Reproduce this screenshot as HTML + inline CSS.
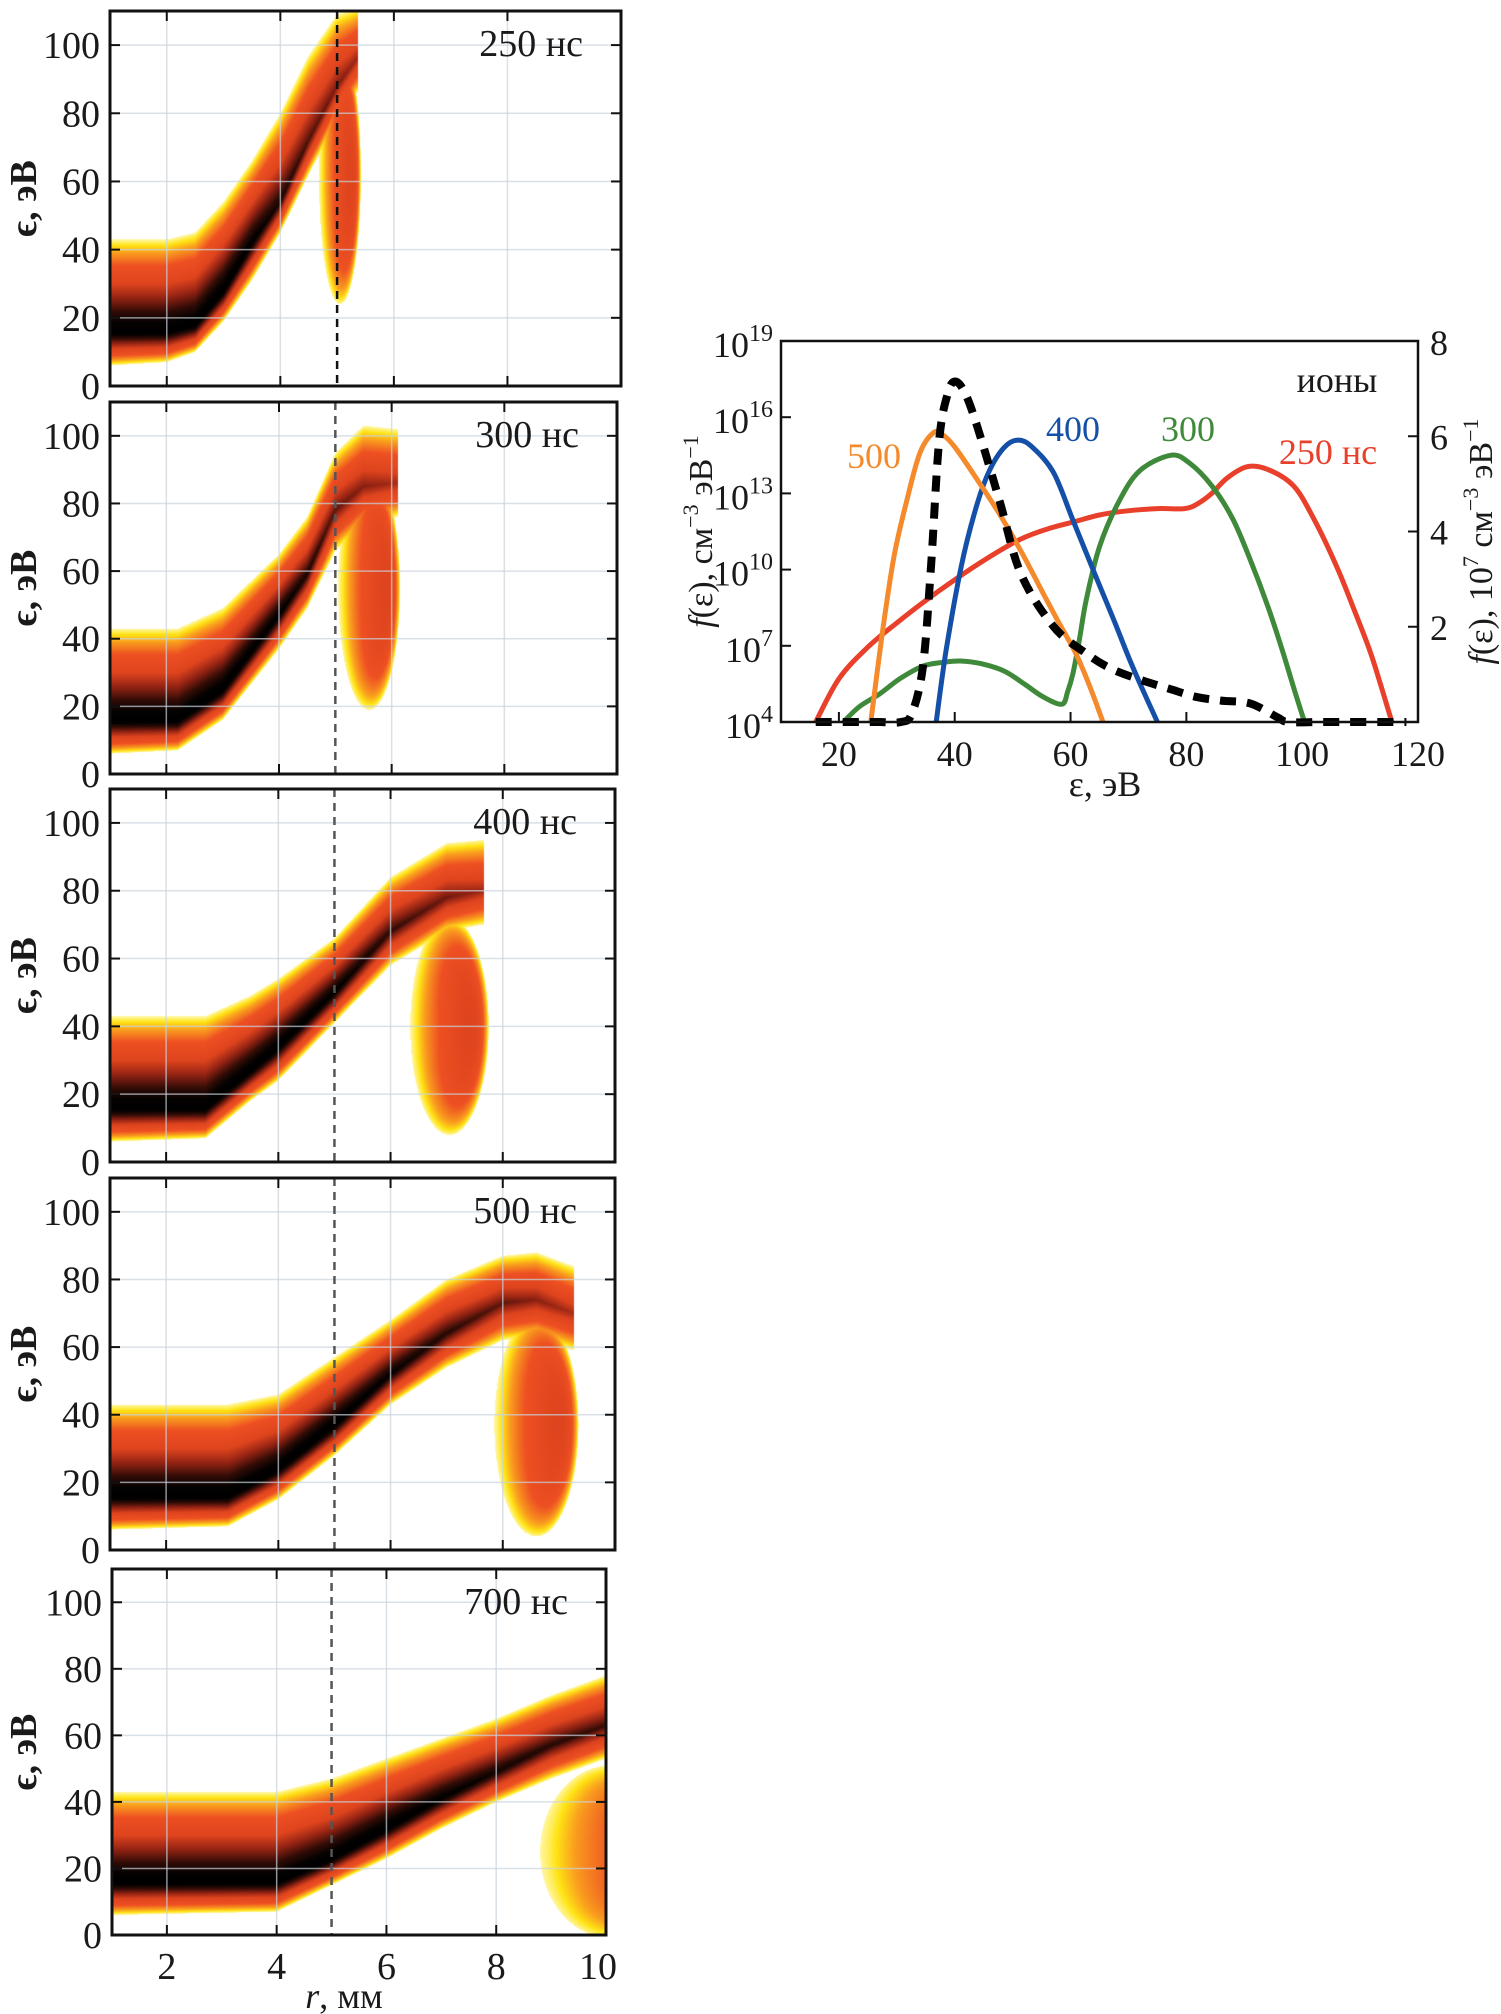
<!DOCTYPE html>
<html><head><meta charset="utf-8">
<style>
html,body{margin:0;padding:0;background:#fff;}
#root{position:relative;width:1501px;height:2014px;overflow:hidden;font-family:"Liberation Serif",serif;}
canvas{position:absolute;}
svg{position:absolute;left:0;top:0;}
</style></head>
<body>
<div id="root">
<svg id="svg" width="1501" height="2014"></svg>
</div>
<script>
// ---------- heatmap panel data ----------
const panelLabels = ["250 нс","300 нс","400 нс","500 нс","700 нс"];
const bandR1=[1,2,2.5,3,3.5,4,4.5,5,5.35], bandC1=[16,16,18,28,42,54,72,88,96], bandWl1=[10,9,8,9,11,9,10,10,10], bandWu1=[27,27,27,26,24,26,25,21,15], bandPk1=[1,1,1,1,0.95,0.85,0.75,0.68,0.62];
const bandR2=[1,2.2,3,4,4.5,5,5.5,6.1], bandC2=[16,16,25,47,59,78,85,86], bandWl2=[10,9,9,10,10,12,12,10], bandWu2=[27,27,24,18,17,17,18,16], bandPk2=[1,1,1,0.95,0.85,0.72,0.66,0.6];
const bandR3=[1,2.7,3.5,4,5,6,7,7.65], bandC3=[16,16,27,34,50,68,78,80], bandWl3=[10,9,9,10,9,10,10,10], bandWu3=[27,27,22,20,16,16,16,15], bandPk3=[1,1,1,1,0.95,0.8,0.7,0.62];
const bandR4=[1,3.1,4,5,6,7,8,8.6,9.25], bandC4=[16,16,24,37,52,64,73,74,70], bandWl4=[10,9,9,9,9,10,11,11,11], bandWu4=[27,27,22,20,16,16,14,14,14], bandPk4=[1,1,1,1,0.92,0.82,0.72,0.66,0.6];
const bandR5=[1,4,5,6,7,8,9,10], bandC5=[16,16,23,32,41,49,57,63], bandWl5=[10,9,8,9,9,9,10,10], bandWu5=[27,27,24,21,18,16,15,15], bandPk5=[1,1,1,1,0.95,0.88,0.82,0.78];
// hook: [r-center, eps-center, r-radius, eps-radius, peak]
const hook1=[5.05,62,0.37,38,0.6], hook2=[5.6,55,0.55,36,0.6], hook3=[7.05,40,0.7,32,0.6], hook4=[8.6,37,0.75,33,0.6], hook5=[10.1,25,1.3,26,0.45];
const xTicks=[2,4,6,8,10], yTicks=[0,20,40,60,80,100];
const panelBoxes=[[110,11,621,386],[110,402,617,774],[110,789,615,1162],[110,1178,615,1550],[112,1569,606,1935]];
const bands=[[bandR1,bandC1,bandWl1,bandWu1,bandPk1,hook1],[bandR2,bandC2,bandWl2,bandWu2,bandPk2,hook2],[bandR3,bandC3,bandWl3,bandWu3,bandPk3,hook3],[bandR4,bandC4,bandWl4,bandWu4,bandPk4,hook4],[bandR5,bandC5,bandWl5,bandWu5,bandPk5,hook5]];

// ---------- line chart data ----------
const eTicks=[20,40,60,80,100,120];
const logTicks=[4,7,10,13,16,19];
const linTicks=[2,4,6,8];
const s250x=[16,20,25,30,34.5,40,46,51.4,56,60.9,65,69.3,75,79.7,82,84.4,87,90.5,94,98.5,102,106,109,111.7,113.5,115.5];
const s250y=[4,5.7,6.95,7.9,8.7,9.6,10.5,11.2,11.6,11.9,12.15,12.3,12.4,12.4,12.6,13.0,13.6,14.05,13.95,13.3,12.0,10.1,8.4,6.8,5.5,4];
const s500x=[25.5,27.5,29.5,31.7,34,36.4,38,40.1,44,47.7,51.5,55.2,58,60.9,63.5,65.6];
const s500y=[4,7.5,10.5,12.7,14.6,15.4,15.3,14.8,13.5,12.2,10.7,9.1,7.9,6.7,5.3,4];
const s400x=[36.8,38.5,41.1,43.5,45.8,48.5,51,53.5,57.1,60.5,64.6,67.5,70.3,72.8,75];
const s400y=[4,6.8,10.1,12.3,13.8,14.8,15.1,14.8,13.8,11.9,9.6,8.0,6.4,5.1,4];
const s300x=[20.8,23.5,27,30.5,34.5,38,41,44.5,48.6,52,55.2,58.5,59.5,60.4,61.5,62.7,65,68.4,72,77.3,80.5,84.4,88,91,94,96.6,98.6,100.4];
const s300y=[4,4.6,5.1,5.7,6.2,6.35,6.4,6.3,6.0,5.5,5.0,4.7,5.2,5.9,7.2,8.8,10.9,12.7,13.9,14.5,14.2,13.3,12.0,10.4,8.6,6.8,5.3,4];
const sDashx=[16,22,27,30.7,32.6,34.5,35.9,37.3,38.8,40.1,41.8,43.9,47.7,51.4,57.1,62.7,67,72.2,77,81.6,86,91,95.7,97.6,103,110,118];
const sDashy=[0,0,0,0,0.18,1.16,3.26,5.9,6.9,7.15,6.9,6.2,4.66,3.12,2.0,1.44,1.12,0.88,0.7,0.53,0.45,0.39,0.1,0,0,0,0];

// ---------- helpers ----------
const NS="http://www.w3.org/2000/svg";
const svg=document.getElementById('svg');
function mk(tag,attrs,parent){const e=document.createElementNS(NS,tag);for(const k in attrs)e.setAttribute(k,attrs[k]);(parent||svg).appendChild(e);return e;}
function interp(xs,ys,x){if(x<=xs[0])return ys[0];for(let i=1;i<xs.length;i++){if(x<=xs[i]){const t=(x-xs[i-1])/(xs[i]-xs[i-1]);return ys[i-1]+t*(ys[i]-ys[i-1]);}}return ys[ys.length-1];}
const cmapT=[0,0.02,0.08,0.16,0.3,0.5,0.65,0.8,0.92,1];
const cmapC=[[255,255,255],[255,246,160],[255,228,20],[250,160,30],[238,80,34],[222,68,30],[150,36,20],[50,12,6],[5,2,1],[0,0,0]];
function cmap(t){if(t<=0)return [255,255,255];if(t>=1)return cmapC[cmapC.length-1];for(let i=1;i<cmapT.length;i++){if(t<=cmapT[i]){const f=(t-cmapT[i-1])/(cmapT[i]-cmapT[i-1]);const a=cmapC[i-1],b=cmapC[i];return [a[0]+f*(b[0]-a[0]),a[1]+f*(b[1]-a[1]),a[2]+f*(b[2]-a[2])];}}}

// ---------- heatmap panels ----------
const root=document.getElementById('root');
panelBoxes.forEach((b,pi)=>{
  const [x0,y0,x1,y1]=b, W=x1-x0, H=y1-y0;
  const xs=r=>x0+(r-1)/9*W, ys=e=>y1-e/110*H;
  const cv=document.createElement('canvas');
  cv.width=W;cv.height=H;cv.style.left=x0+'px';cv.style.top=y0+'px';
  
  
  root.insertBefore(cv,svg);
  const ctx=cv.getContext('2d');const img=ctx.createImageData(W,H);
  const [bR,bC,bWl,bWu,bPk,hk]=bands[pi];
  const rEnd=bR[bR.length-1];
  for(let px=0;px<W;px++){
    const r=1+(px+0.5)/W*9;
    let inBand=r<=rEnd+0.02, c,wl,wu,pk;
    if(inBand){c=interp(bR,bC,r);wl=interp(bR,bWl,r);wu=interp(bR,bWu,r);pk=interp(bR,bPk,r);}
    for(let py=0;py<H;py++){
      const e=110*(1-(py+0.5)/H);
      let t=0;
      const qr=(r-hk[0])/hk[2], qe=(e-hk[1])/hk[3];const q=Math.sqrt(qr*qr+qe*qe);
      if(q<1){const side=Math.min(1,Math.max(0,0.6+0.5*qr));t=hk[4]*(1-Math.pow(q,4))*side+0.02;}
      if(inBand){const d=(e-c)/(e>c?wu:wl);const ad=Math.abs(d);if(ad<1){const tb=pk*(1-ad)+0.015;if(tb>t)t=tb;}}
      const col=cmap(t);const k=(py*W+px)*4;
      img.data[k]=col[0];img.data[k+1]=col[1];img.data[k+2]=col[2];img.data[k+3]=255;
    }
  }
  ctx.putImageData(img,0,0);
  const g=mk('g',{});
  
  
  xTicks.forEach(v=>{if(v<10){const l=mk('line',{x1:xs(v),x2:xs(v),y1:y0,y2:y1,stroke:'#c9d3dc','stroke-width':1.5,'stroke-opacity':0.7},g);
    mk('line',{x1:xs(v),x2:xs(v),y1:y1,y2:y1-10,stroke:'#111','stroke-width':2},g);mk('line',{x1:xs(v),x2:xs(v),y1:y0,y2:y0+10,stroke:'#111','stroke-width':2},g);}});
  yTicks.forEach(v=>{if(v>0){const l=mk('line',{x1:x0,x2:x1,y1:ys(v),y2:ys(v),stroke:'#c9d3dc','stroke-width':1.5,'stroke-opacity':0.7},g);
    mk('line',{x1:x0,x2:x0+10,y1:ys(v),y2:ys(v),stroke:'#111','stroke-width':2},g);mk('line',{x1:x1,x2:x1-10,y1:ys(v),y2:ys(v),stroke:'#111','stroke-width':2},g);}
    const t=mk('text',{x:x0-10,y:ys(v)+13,'text-anchor':'end','font-size':38,fill:'#1a1a1a'},g);t.textContent=v;
    });
  const dl=mk('line',{x1:xs(5),x2:xs(5),y1:y0,y2:y1,stroke:pi<1?'#111':'#555','stroke-width':2.5,'stroke-dasharray':'8,6'},g);
  
  const fr=mk('rect',{x:x0,y:y0,width:W,height:H,fill:'none',stroke:'#111','stroke-width':3},g);
  
  const tl=mk('text',{x:x1-38,y:y0+45,'text-anchor':'end','font-size':38,fill:'#1a1a1a'},g);tl.textContent=panelLabels[pi];
  
  const yl=mk('text',{x:0,y:0,'text-anchor':'middle','font-size':38,'font-weight':'bold',fill:'#1a1a1a',transform:`translate(36,${(y0+y1)/2}) rotate(-90)`},g);yl.textContent='ϵ, эВ';
  
  if(pi===4){
    xTicks.forEach(v=>{const t=mk('text',{x:xs(v)-(v===10?8:0),y:y1+44,'text-anchor':'middle','font-size':38,fill:'#1a1a1a'},g);t.textContent=v;
      });
    const xt=mk('text',{x:(x0+x1)/2-15,y:2008,'text-anchor':'middle','font-size':36,fill:'#1a1a1a'},g);
    xt.innerHTML='<tspan font-style="italic">r</tspan>, мм';
    
  }
});

// ---------- line chart ----------
(function(){
  const X0=781,X1=1418,Y0=341,Y1=722;
  const xs=v=>X0+(v-10)/110*(X1-X0);
  const yl=v=>Y1-(v-4)/15*(Y1-Y0);
  const yr=v=>Y1-v/8*(Y1-Y0);
  const g=mk('g',{});
  eTicks.forEach(v=>{if(v<120){mk('line',{x1:xs(v),x2:xs(v),y1:Y1,y2:Y1-10,stroke:'#111','stroke-width':2},g);}
    const t=mk('text',{x:xs(v),y:Y1+44,'text-anchor':'middle','font-size':36,fill:'#1a1a1a'},g);t.textContent=v;
    });
  logTicks.forEach(v=>{if(v>4&&v<19)mk('line',{x1:X0,x2:X0+10,y1:yl(v),y2:yl(v),stroke:'#111','stroke-width':2},g);
    const t=mk('text',{x:X0-8,y:yl(v)+16,'text-anchor':'end','font-size':36,fill:'#1a1a1a'},g);
    t.innerHTML='10<tspan dy="-16" font-size="24">'+v+'</tspan>';
    });
  linTicks.forEach(v=>{if(v<8)mk('line',{x1:X1,x2:X1-10,y1:yr(v),y2:yr(v),stroke:'#111','stroke-width':2},g);
    const t=mk('text',{x:X1+12,y:yr(v)+(v===8?14:13),'font-size':36,fill:'#1a1a1a'},g);t.textContent=v;
    });
  function path(xa,ya,yf,attrs,name){
    const P=xa.map((x,i)=>[xs(x),yf(ya[i])]);
    let d='M'+P[0][0].toFixed(1)+','+P[0][1].toFixed(1);
    for(let i=0;i<P.length-1;i++){const p0=P[Math.max(0,i-1)],p1=P[i],p2=P[i+1],p3=P[Math.min(P.length-1,i+2)];
      const c1=[p1[0]+(p2[0]-p0[0])/6,p1[1]+(p2[1]-p0[1])/6],c2=[p2[0]-(p3[0]-p1[0])/6,p2[1]-(p3[1]-p1[1])/6];
      d+='C'+c1[0].toFixed(1)+','+c1[1].toFixed(1)+' '+c2[0].toFixed(1)+','+c2[1].toFixed(1)+' '+p2[0].toFixed(1)+','+p2[1].toFixed(1);}
    const p=mk('path',Object.assign({d:d,fill:'none','stroke-linejoin':'round'},attrs),g);}
  path(s250x,s250y,yl,{stroke:'#e8402a','stroke-width':5},'series-250ns');
  path(s300x,s300y,yl,{stroke:'#3f8a3a','stroke-width':5},'series-300ns');
  path(s400x,s400y,yl,{stroke:'#1450a8','stroke-width':5},'series-400ns');
  path(s500x,s500y,yl,{stroke:'#f58a2c','stroke-width':5},'series-500ns');
  path(sDashx,sDashy,yr,{stroke:'#000','stroke-width':8,'stroke-dasharray':'16,11'},'series-ions-linear-dashed');
  const fr=mk('rect',{x:X0,y:Y0,width:X1-X0,height:Y1-Y0,fill:'none',stroke:'#111','stroke-width':2.5},g);
  
  function txt(x,y,s,col,name,anchor){const t=mk('text',{x:x,y:y,'font-size':36,fill:col,'text-anchor':anchor||'middle'},g);t.textContent=s;}
  txt(1337,392,'ионы','#1a1a1a','ions-label');
  txt(874,468,'500','#f58a2c','label-500');
  txt(1073,441,'400','#1450a8','label-400');
  txt(1188,441,'300','#3f8a3a','label-300');
  txt(1328,464,'250 нс','#e8402a','label-250');
  txt(1105,796,'ε, эВ','#1a1a1a','x-axis-title');
  const a=mk('text',{x:0,y:0,'text-anchor':'middle','font-size':34,fill:'#1a1a1a',transform:`translate(712,${(Y0+Y1)/2}) rotate(-90)`},g);
  a.innerHTML='<tspan font-style="italic">f</tspan>(ε), см<tspan dy="-14" font-size="22">−3</tspan><tspan dy="14"> эВ</tspan><tspan dy="-14" font-size="22">−1</tspan>';
  
  const b2=mk('text',{x:0,y:0,'text-anchor':'middle','font-size':34,fill:'#1a1a1a',transform:`translate(1492,${(Y0+Y1)/2+10}) rotate(-90)`},g);
  b2.innerHTML='<tspan font-style="italic">f</tspan>(ε), 10<tspan dy="-14" font-size="22">7</tspan><tspan dy="14"> см</tspan><tspan dy="-14" font-size="22">−3</tspan><tspan dy="14"> эВ</tspan><tspan dy="-14" font-size="22">−1</tspan>';
  
})();
</script>
</body></html>
